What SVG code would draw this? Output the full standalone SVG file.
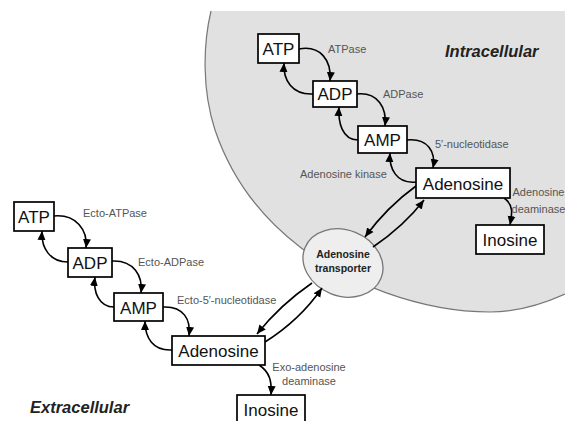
<svg xmlns="http://www.w3.org/2000/svg" width="565" height="421" viewBox="0 0 565 421">
<defs>
<marker id="ah" markerUnits="userSpaceOnUse" markerWidth="10" markerHeight="10" viewBox="0 0 10 10" refX="9" refY="5" orient="auto">
<path d="M0,1 L9,5 L0,9 Z" fill="#000"/>
</marker>
<style>
.box{fill:#fff;stroke:#000;stroke-width:1.7}
.bt{font-family:"Liberation Sans",Arial,sans-serif;font-size:17px;fill:#111;text-anchor:middle}
.lb{font-family:"Liberation Sans",Arial,sans-serif;font-size:11px;fill:#555}
.ttl{font-family:"Liberation Sans",Arial,sans-serif;font-size:16.5px;font-weight:bold;font-style:italic;fill:#222}
.tt{font-family:"Liberation Sans",Arial,sans-serif;font-size:10.5px;font-weight:bold;fill:#222;text-anchor:middle}
.c{fill:none;stroke:#000;stroke-width:1.6;marker-end:url(#ah)}
</style>
</defs>
<rect width="565" height="421" fill="#fff"/>
<g id="cell">
<path d="M 211 11 C 203 45, 202 90, 215 130 C 232 180, 262 218, 300 247 C 345 282, 420 312, 490 312 C 520 312, 545 303, 565 294 L 565 11 Z" fill="#e1e1e1" stroke="none"/>
<path d="M 211 11 C 203 45, 202 90, 215 130 C 232 180, 262 218, 300 247 C 345 282, 420 312, 490 312 C 520 312, 545 303, 565 294" fill="none" stroke="#777" stroke-width="1.2"/>
</g>
<text class="ttl" x="445" y="57">Intracellular</text>
<text class="ttl" x="30" y="413">Extracellular</text>
<g id="transporter">
<ellipse cx="343" cy="263" rx="41" ry="33" transform="rotate(22 343 263)" fill="#eeeeee" stroke="#777" stroke-width="1.3"/>
<text class="tt" x="343" y="258">Adenosine</text>
<text class="tt" x="343" y="272">transporter</text>
</g>
<g id="connectors">
<path class="c" d="M 299 49 C 320 45, 332 60, 330 81"/>
<path class="c" d="M 313 94 C 292 95, 283 80, 284 63"/>
<path class="c" d="M 357 94 C 378 92, 387 108, 385 126"/>
<path class="c" d="M 358 140 C 342 140, 338 122, 339 107"/>
<path class="c" d="M 407 140 C 428 138, 436 152, 433 168"/>
<path class="c" d="M 416 182 C 396 184, 389 168, 390 153"/>
<path class="c" d="M 504 198 C 514 205, 512 214, 510 225"/>
<path class="c" d="M 416 186 Q 387 207, 365 237"/>
<path class="c" d="M 373 247 Q 404 226, 424 200"/>
<path class="c" d="M 312 283 Q 280 305, 257 334"/>
<path class="c" d="M 265 342 Q 300 320, 322 288"/>
<path class="c" d="M 54 216 C 76 214, 88 230, 86 248"/>
<path class="c" d="M 68 262 C 50 262, 41 248, 42 231"/>
<path class="c" d="M 112 261 C 134 260, 143 276, 141 293"/>
<path class="c" d="M 114 307 C 99 307, 93 292, 95 277"/>
<path class="c" d="M 163 307 C 184 306, 191 320, 189 336"/>
<path class="c" d="M 172 350 C 153 351, 145 338, 145 321"/>
<path class="c" d="M 259 365 C 270 372, 272 382, 271 395"/>
</g>
<g id="in-atp"><rect class="box" x="258" y="34" width="41" height="29"/><text class="bt" x="278.5" y="55">ATP</text></g>
<g id="in-adp"><rect class="box" x="313" y="81" width="44" height="26"/><text class="bt" x="335" y="100">ADP</text></g>
<g id="in-amp"><rect class="box" x="358" y="126" width="49" height="27"/><text class="bt" x="382.5" y="146">AMP</text></g>
<g id="in-ado"><rect class="box" x="416" y="168" width="94" height="30"/><text class="bt" x="463" y="189.5">Adenosine</text></g>
<g id="in-ino"><rect class="box" x="476" y="225" width="68" height="29"/><text class="bt" x="510" y="246">Inosine</text></g>
<g id="ex-atp"><rect class="box" x="14" y="202" width="40" height="29"/><text class="bt" x="34" y="223">ATP</text></g>
<g id="ex-adp"><rect class="box" x="68" y="248" width="44" height="29"/><text class="bt" x="90" y="269">ADP</text></g>
<g id="ex-amp"><rect class="box" x="114" y="293" width="49" height="28"/><text class="bt" x="138.5" y="313.5">AMP</text></g>
<g id="ex-ado"><rect class="box" x="172" y="336" width="93" height="29"/><text class="bt" x="218.5" y="357">Adenosine</text></g>
<g id="ex-ino"><rect class="box" x="237" y="395" width="68" height="32"/><text class="bt" x="271" y="416">Inosine</text></g>
<g id="labels">
<text class="lb" x="328" y="53">ATPase</text>
<text class="lb" x="383" y="98">ADPase</text>
<text class="lb" x="435" y="148">5′-nucleotidase</text>
<text class="lb" x="300" y="178">Adenosine kinase</text>
<text class="lb" x="538.5" y="196" text-anchor="middle" font-size="10.5">Adenosine</text>
<text class="lb" x="538.5" y="213" text-anchor="middle" font-size="10.5">deaminase</text>
<text class="lb" x="83" y="217">Ecto-ATPase</text>
<text class="lb" x="138" y="266">Ecto-ADPase</text>
<text class="lb" x="177" y="304">Ecto-5′-nucleotidase</text>
<text class="lb" x="309" y="371" text-anchor="middle">Exo-adenosine</text>
<text class="lb" x="309" y="385" text-anchor="middle">deaminase</text>
</g>
</svg>
